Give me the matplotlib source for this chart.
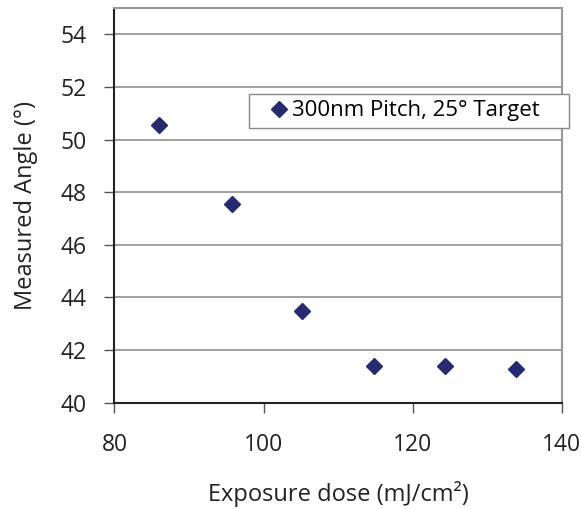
import matplotlib.pyplot as plt

# data
dose = [86.0, 95.7, 105.2, 114.8, 124.3, 133.9]
angle = [50.55, 47.55, 43.5, 41.38, 41.38, 41.28]
label = '300nm Pitch, 25° Target'

plt.rcParams['font.family'] = ['Open Sans', 'DejaVu Sans']

fig = plt.figure(figsize=(5.81, 5.09), dpi=100)
ax = fig.add_axes([0.197, 0.209, 0.77, 0.775])

ax.plot(dose, angle, linestyle='none', marker='D', markersize=8,
        color='#262a72', label=label + '    ')

ax.set_xlim(80, 140)
ax.set_ylim(40, 55)
ax.set_xticks([80, 100, 120, 140])
ax.set_yticks(range(40, 55, 2))
ax.grid(axis='y', color='#999999', linewidth=1.3)
ax.set_axisbelow(True)

for s in ['left', 'bottom']:
    ax.spines[s].set_color('#222222')
    ax.spines[s].set_linewidth(1.5)
for s in ['top', 'right']:
    ax.spines[s].set_color('#999999')
    ax.spines[s].set_linewidth(1.5)

ax.tick_params(labelsize=16.5, length=7, width=1, color='#555555',
               labelcolor='#222222')
ax.tick_params(axis='y', pad=13)
ax.tick_params(axis='x', pad=15)
ax.set_xlabel('Exposure dose (mJ/cm²)', fontsize=17, color='#222222', labelpad=17)
ax.set_ylabel('Measured Angle (°)', fontsize=17, color='#222222', labelpad=16)

leg = ax.legend(loc='upper right', bbox_to_anchor=(1.016, 0.782), fontsize=16,
                borderaxespad=0, handletextpad=-0.49, handlelength=2.14,
                borderpad=0.28, fancybox=False, framealpha=1, edgecolor='#888888')
leg.get_frame().set_linewidth(1.0)

fig.savefig('out.png', dpi=100)
